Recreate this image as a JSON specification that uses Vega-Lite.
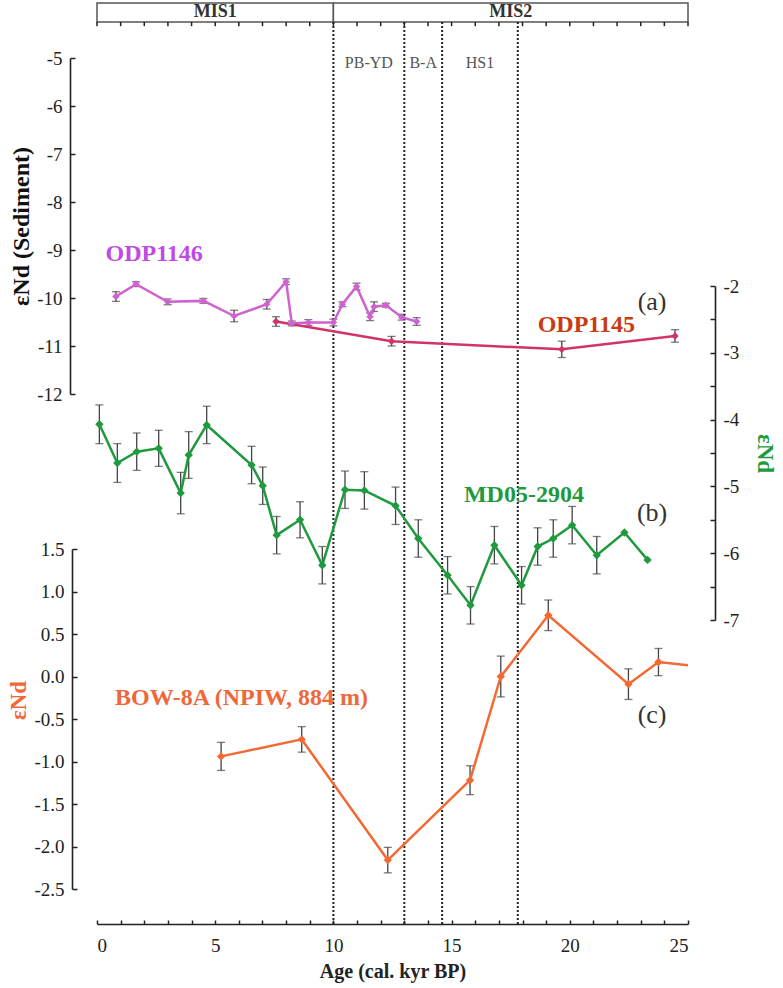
{
  "$schema": "https://vega.github.io/schema/vega-lite/v6.json",
  "width": 591,
  "height": 921,
  "autosize": {"type": "none"},
  "padding": {"left": 97, "top": 3, "right": 95, "bottom": 64},
  "background": "white",
  "config": {
    "view": {"stroke": null},
    "font": "Liberation Serif",
    "axis": {"labelFont": "Liberation Serif", "titleFont": "Liberation Serif", "labelFontSize": 19, "labelColor": "#222", "domainColor": "#222", "tickColor": "#222", "domainWidth": 1.6, "tickWidth": 1.5, "grid": false, "titleFontWeight": "bold"}
  },
  "datasets": {
    "mis": [{"age": 0, "end": 10}, {"age": 10, "end": 25}],
    "mislabels": [{"age": 5, "name": "MIS1"}, {"age": 17.5, "name": "MIS2"}],
    "topticks": [{"age": 0}, {"age": 1}, {"age": 2}, {"age": 3}, {"age": 4}, {"age": 5}, {"age": 6}, {"age": 7}, {"age": 8}, {"age": 9}, {"age": 10}, {"age": 11}, {"age": 12}, {"age": 13}, {"age": 14}, {"age": 15}, {"age": 16}, {"age": 17}, {"age": 18}, {"age": 19}, {"age": 20}, {"age": 21}, {"age": 22}, {"age": 23}, {"age": 24}, {"age": 25}],
    "bounds": [{"age": 10}, {"age": 13}, {"age": 14.6}, {"age": 17.8}],
    "phases": [{"age": 11.5, "name": "PB-YD"}, {"age": 13.8, "name": "B-A"}, {"age": 16.2, "name": "HS1"}],
    "odp": [
      {"core": "ODP1146", "age": 0.80, "v": -9.97, "err": 0.10},
      {"core": "ODP1146", "age": 1.65, "v": -9.71, "err": 0.05},
      {"core": "ODP1146", "age": 2.99, "v": -10.08, "err": 0.06},
      {"core": "ODP1146", "age": 4.50, "v": -10.06, "err": 0.05},
      {"core": "ODP1146", "age": 5.80, "v": -10.375, "err": 0.12},
      {"core": "ODP1146", "age": 7.18, "v": -10.13, "err": 0.10},
      {"core": "ODP1146", "age": 8.00, "v": -9.66, "err": 0.06},
      {"core": "ODP1146", "age": 8.24, "v": -10.53, "err": 0.05},
      {"core": "ODP1146", "age": 8.94, "v": -10.51, "err": 0.06},
      {"core": "ODP1146", "age": 10.00, "v": -10.51, "err": 0.07},
      {"core": "ODP1146", "age": 10.38, "v": -10.13, "err": 0.05},
      {"core": "ODP1146", "age": 10.98, "v": -9.76, "err": 0.07},
      {"core": "ODP1146", "age": 11.55, "v": -10.39, "err": 0.08},
      {"core": "ODP1146", "age": 11.72, "v": -10.18, "err": 0.10},
      {"core": "ODP1146", "age": 12.22, "v": -10.15, "err": 0.04},
      {"core": "ODP1146", "age": 12.89, "v": -10.40, "err": 0.06},
      {"core": "ODP1146", "age": 13.52, "v": -10.49, "err": 0.08},
      {"core": "ODP1145", "age": 7.57, "v": -10.49, "err": 0.10},
      {"core": "ODP1145", "age": 12.46, "v": -10.90, "err": 0.10},
      {"core": "ODP1145", "age": 19.66, "v": -11.07, "err": 0.17},
      {"core": "ODP1145", "age": 24.45, "v": -10.79, "err": 0.13}
    ],
    "md05": [
      {"age": 0.10, "v": -4.07, "err": 0.29},
      {"age": 0.86, "v": -4.65, "err": 0.29},
      {"age": 1.68, "v": -4.48, "err": 0.28},
      {"age": 2.61, "v": -4.43, "err": 0.27},
      {"age": 3.54, "v": -5.10, "err": 0.31},
      {"age": 3.88, "v": -4.53, "err": 0.35},
      {"age": 4.64, "v": -4.08, "err": 0.28},
      {"age": 6.54, "v": -4.68, "err": 0.28},
      {"age": 7.01, "v": -4.99, "err": 0.28},
      {"age": 7.60, "v": -5.73, "err": 0.28},
      {"age": 8.59, "v": -5.50, "err": 0.27},
      {"age": 9.53, "v": -6.18, "err": 0.28},
      {"age": 10.49, "v": -5.05, "err": 0.28},
      {"age": 11.31, "v": -5.06, "err": 0.28},
      {"age": 12.63, "v": -5.29, "err": 0.28},
      {"age": 13.59, "v": -5.78, "err": 0.28},
      {"age": 14.83, "v": -6.33, "err": 0.28},
      {"age": 15.80, "v": -6.78, "err": 0.28},
      {"age": 16.81, "v": -5.88, "err": 0.28},
      {"age": 17.96, "v": -6.48, "err": 0.28},
      {"age": 18.64, "v": -5.90, "err": 0.28},
      {"age": 19.30, "v": -5.78, "err": 0.28},
      {"age": 20.10, "v": -5.58, "err": 0.28},
      {"age": 21.14, "v": -6.03, "err": 0.28},
      {"age": 22.31, "v": -5.69, "err": null},
      {"age": 23.29, "v": -6.10, "err": null}
    ],
    "bow": [
      {"age": 5.25, "v": -0.94, "err": 0.165},
      {"age": 8.66, "v": -0.74, "err": 0.15},
      {"age": 12.30, "v": -2.16, "err": 0.15},
      {"age": 15.78, "v": -1.22, "err": 0.17},
      {"age": 17.08, "v": 0.00, "err": 0.24},
      {"age": 19.09, "v": 0.72, "err": 0.18},
      {"age": 22.48, "v": -0.09, "err": 0.18},
      {"age": 23.75, "v": 0.17, "err": 0.16},
      {"age": 26.0, "v": 0.10, "err": 0.16}
    ]
  },
  "encoding": {
    "x": {"field": "age", "type": "quantitative", "scale": {"domain": [0, 25], "nice": false, "zero": false},
      "axis": {"orient": "bottom", "values": [0,1,2,3,4,5,6,7,8,9,10,11,12,13,14,15,16,17,18,19,20,21,22,23,24,25], "labelExpr": "datum.value % 5 === 0 ? datum.label : ''", "labelOverlap": false, "domainColor": "#222", "domainWidth": 1.6, "tickColor": "#222", "tickSize": -4, "labelPadding": 16, "title": "Age (cal. kyr BP)", "titleFontSize": 20, "titlePadding": 6, "titleColor": "#222"}}
  },
  "layer": [
    {
      "encoding": {
        "y": {"datum": 0, "type": "quantitative", "scale": {"domain": [0, 1], "range": [19, 0]}, "axis": null}
      },
      "layer": [
        {
          "data": {"name": "mis"},
          "mark": {"type": "rect", "fill": "white", "stroke": "#555", "strokeWidth": 1.5},
          "encoding": {
            "x2": {"field": "end"},
            "y2": {"datum": 1}
          }
        },
        {
          "data": {"name": "mislabels"},
          "mark": {"type": "text", "font": "Liberation Serif", "fontWeight": "bold", "fontSize": 18, "color": "#333", "dy": -1},
          "encoding": {
            "y": {"datum": 0.5, "type": "quantitative", "axis": null},
            "text": {"field": "name"}
          }
        },
        {
          "data": {"name": "topticks"},
          "mark": {"type": "rule", "color": "#222", "strokeWidth": 1.5},
          "encoding": {
            "y2": {"datum": -0.22}
          }
        }
      ]
    },
    {
      "encoding": {
        "y": {"datum": 0, "type": "quantitative", "scale": {"domain": [0, 1], "range": [921, 19]}, "axis": null}
      },
      "layer": [
        {
          "data": {"name": "bounds"},
          "mark": {"type": "rule", "strokeDash": [2, 2], "strokeWidth": 2, "color": "#222"},
          "encoding": {
            "y2": {"datum": 1}
          }
        },
        {
          "data": {"name": "phases"},
          "mark": {"type": "text", "font": "Liberation Serif", "fontSize": 16, "color": "#555"},
          "encoding": {
            "y": {"datum": 0.955, "type": "quantitative", "axis": null},
            "text": {"field": "name"}
          }
        }
      ]
    },
    {
      "data": {"name": "odp"},
      "encoding": {
        "y": {"field": "v", "type": "quantitative", "scale": {"domain": [-12, -5], "range": [391, 55]},
          "axis": {"orient": "left", "offset": 27, "values": [-12,-11,-10,-9,-8,-7,-6,-5], "format": "d", "labelExpr": "replace(datum.label, '−', '-')", "domainColor": "#222", "domainWidth": 1.6, "tickColor": "#222", "tickSize": -5, "labelPadding": 13, "title": "εNd (Sediment)", "titleFontSize": 24, "titleColor": "#111", "titlePadding": 3}}
      },
      "layer": [
        {
          "mark": {"type": "errorbar", "ticks": {"size": 8}, "color": "#444", "thickness": 1.3},
          "encoding": {"yError": {"field": "err"}}
        },
        {
          "mark": {"type": "line", "strokeWidth": 2.5},
          "encoding": {
            "color": {"field": "core", "type": "nominal", "scale": {"domain": ["ODP1146", "ODP1145"], "range": ["#cf62cf", "#d2336b"]}, "legend": null}
          }
        },
        {
          "mark": {"type": "point", "shape": "diamond", "filled": true, "size": 55, "opacity": 1},
          "encoding": {
            "color": {"field": "core", "type": "nominal", "legend": null}
          }
        },
        {
          "data": {"values": [{"age": 2.42, "v": -9.08, "name": "ODP1146"}]},
          "mark": {"type": "text", "font": "Liberation Serif", "fontWeight": "bold", "fontSize": 24, "color": "#c04ae6"},
          "encoding": {"text": {"field": "name"}}
        },
        {
          "data": {"values": [{"age": 20.7, "v": -10.56, "name": "ODP1145"}]},
          "mark": {"type": "text", "font": "Liberation Serif", "fontWeight": "bold", "fontSize": 24, "color": "#c83c14"},
          "encoding": {"text": {"field": "name"}}
        },
        {
          "data": {"values": [{"age": 23.48, "v": -10.08, "name": "(a)"}]},
          "mark": {"type": "text", "font": "Liberation Serif", "fontSize": 26, "color": "#333"},
          "encoding": {"text": {"field": "name"}}
        }
      ]
    },
    {
      "data": {"name": "md05"},
      "encoding": {
        "y": {"field": "v", "type": "quantitative", "scale": {"domain": [-7, -2], "range": [617, 283]},
          "axis": {"orient": "right", "offset": 27, "values": [-7,-6.5,-6,-5.5,-5,-4.5,-4,-3.5,-3,-2.5,-2], "labelExpr": "datum.value % 1 === 0 ? replace(format(datum.value, 'd'), '−', '-') : ''", "labelOverlap": false, "domainColor": "#222", "domainWidth": 1.6, "tickColor": "#222", "tickSize": -5, "labelPadding": 13, "title": "εNd", "titleFontSize": 23, "titleColor": "#1f9a3e", "titlePadding": 14}}
      },
      "layer": [
        {
          "transform": [{"filter": "isValid(datum.err)"}],
          "mark": {"type": "errorbar", "ticks": {"size": 8}, "color": "#444", "thickness": 1.3},
          "encoding": {"yError": {"field": "err"}}
        },
        {
          "mark": {"type": "line", "strokeWidth": 2.5, "color": "#1f9a3e"}
        },
        {
          "mark": {"type": "point", "shape": "diamond", "filled": true, "size": 70, "opacity": 1, "color": "#1f9a3e"}
        },
        {
          "data": {"values": [{"age": 18.06, "v": -5.13, "name": "MD05-2904"}]},
          "mark": {"type": "text", "font": "Liberation Serif", "fontWeight": "bold", "fontSize": 24, "color": "#1f9a3e"},
          "encoding": {"text": {"field": "name"}}
        },
        {
          "data": {"values": [{"age": 23.48, "v": -5.40, "name": "(b)"}]},
          "mark": {"type": "text", "font": "Liberation Serif", "fontSize": 26, "color": "#333"},
          "encoding": {"text": {"field": "name"}}
        }
      ]
    },
    {
      "data": {"name": "bow"},
      "encoding": {
        "y": {"field": "v", "type": "quantitative", "scale": {"domain": [-2.5, 1.5], "range": [886, 546]},
          "axis": {"orient": "left", "offset": 25, "values": [-2.5,-2,-1.5,-1,-0.5,0,0.5,1,1.5], "format": ".1f", "labelExpr": "replace(datum.label, '−', '-')", "domainColor": "#222", "domainWidth": 1.6, "tickColor": "#222", "tickSize": -5, "labelPadding": 13, "title": "εNd", "titleFontSize": 23, "titleColor": "#f0683a", "titlePadding": 3, "titleY": 697}}
      },
      "layer": [
        {
          "transform": [{"filter": "datum.age <= 25"}],
          "mark": {"type": "errorbar", "ticks": {"size": 8}, "color": "#444", "thickness": 1.3},
          "encoding": {"yError": {"field": "err"}}
        },
        {
          "mark": {"type": "line", "strokeWidth": 2.5, "color": "#f26a32", "clip": true}
        },
        {
          "transform": [{"filter": "datum.age <= 25"}],
          "mark": {"type": "point", "shape": "diamond", "filled": true, "size": 70, "opacity": 1, "color": "#f26a32"}
        },
        {
          "data": {"values": [{"age": 6.11, "v": -0.25, "name": "BOW-8A (NPIW, 884 m)"}]},
          "mark": {"type": "text", "font": "Liberation Serif", "fontWeight": "bold", "fontSize": 24, "color": "#f0683a"},
          "encoding": {"text": {"field": "name"}}
        },
        {
          "data": {"values": [{"age": 23.48, "v": -0.45, "name": "(c)"}]},
          "mark": {"type": "text", "font": "Liberation Serif", "fontSize": 26, "color": "#333"},
          "encoding": {"text": {"field": "name"}}
        }
      ]
    }
  ],
  "resolve": {"scale": {"y": "independent"}, "axis": {"y": "independent"}}
}
